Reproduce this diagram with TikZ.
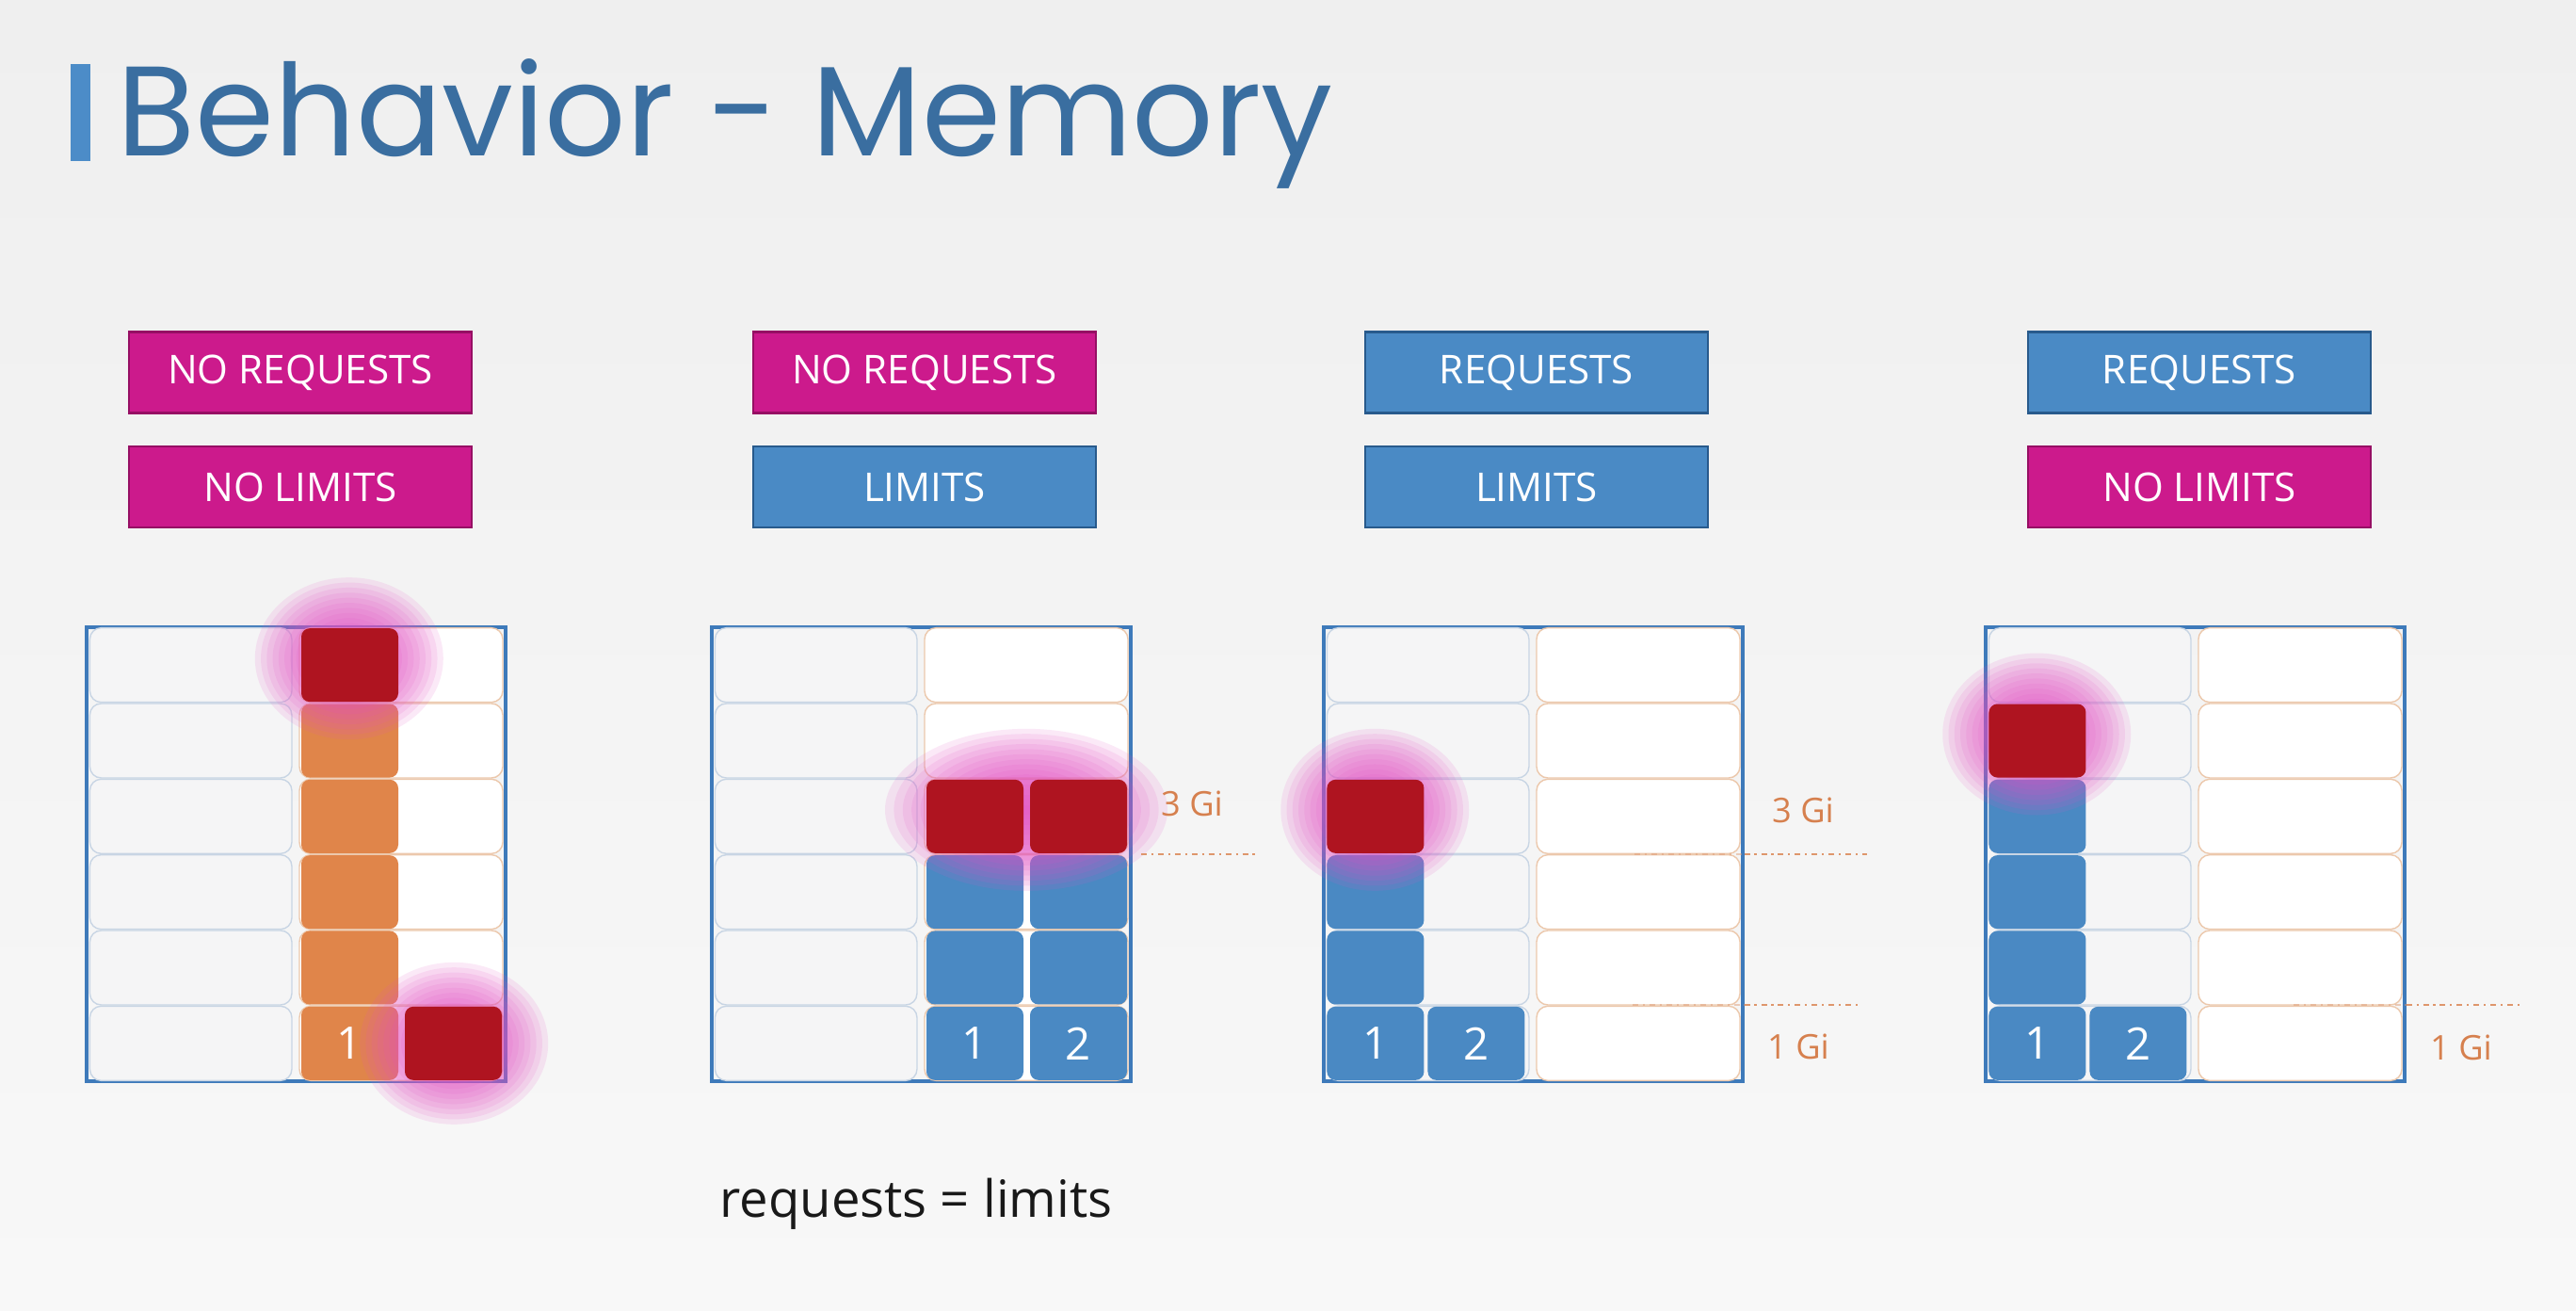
\documentclass[tikz,border=0pt]{standalone}
\usepackage{fontspec}
\setmainfont{Open Sans}
\newfontfamily\titlefont{Poppins}
\usetikzlibrary{positioning, calc}

\definecolor{bgtop}{RGB}{239,239,239}
\definecolor{bgbot}{RGB}{248,248,248}
\definecolor{titleblue}{RGB}{58,110,160}
\definecolor{barblue}{RGB}{76,140,200}
\definecolor{magfill}{RGB}{204,26,140}
\definecolor{magline}{RGB}{150,15,100}
\definecolor{boxfill}{RGB}{74,138,197}
\definecolor{boxline}{RGB}{40,90,140}
\definecolor{frameblue}{RGB}{62,122,186}
\definecolor{lcellfill}{RGB}{245,245,246}
\definecolor{lcelldraw}{RGB}{200,213,228}
\definecolor{rcelldraw}{RGB}{236,200,172}
\definecolor{memblue}{RGB}{74,137,195}
\definecolor{memorange}{RGB}{224,133,74}
\definecolor{oomred}{RGB}{175,20,32}
\definecolor{glowpink}{RGB}{228,80,196}
\definecolor{gitext}{RGB}{214,128,78}
\definecolor{gidash}{RGB}{222,150,108}

% soft pink halo: #1 centre, #2 x radius, #3 y radius
\newcommand{\oomglow}[3]{%
  \foreach \k in {1,...,16}
    \fill[glow] #1 ellipse ({#2*\k/16} and {#3*\k/16});
}

\begin{document}
\begin{tikzpicture}[
  titlebar/.style={rectangle,fill=barblue,minimum width=0.21cm,minimum height=1.03cm,inner sep=0pt},
  heading/.style={anchor=base west,inner sep=0pt,text=titleblue,font=\titlefont\fontsize{38.5}{44}\selectfont},
  tag/.style={rectangle,line width=0.7pt,minimum width=3.64cm,minimum height=0.86cm,inner sep=0pt,text=white,font=\fontsize{12}{14}\selectfont},
  notag/.style={tag,fill=magfill,draw=magline},
  yestag/.style={tag,fill=boxfill,draw=boxline},
  memframe/.style={rectangle,draw=frameblue,line width=0.9pt,minimum width=4.45cm,minimum height=4.82cm,inner sep=0pt},
  freecell/.style={rectangle,rounded corners=0.12cm,line width=0.4pt,minimum width=2.145cm,minimum height=0.79cm,inner sep=0pt},
  lcell/.style={freecell,draw=lcelldraw,fill=lcellfill},
  rcell/.style={freecell,draw=rcelldraw,fill=white,minimum width=2.16cm},
  blk/.style={rectangle,rounded corners=0.09cm,minimum width=1.03cm,minimum height=0.78cm,inner sep=0pt,text=white,font=\fontsize{13.5}{16}\selectfont},
  memblk/.style={blk,fill=memblue},
  orgblk/.style={blk,fill=memorange},
  oomblk/.style={blk,fill=oomred},
  glow/.style={fill=glowpink,opacity=0.12},
  gi/.style={text=gitext,font=\fontsize{10.3}{12}\selectfont},
  limit/.style={draw=gidash,line width=0.7pt,dash pattern=on 1.7pt off 1.4pt on 0.6pt off 1.4pt},
  note/.style={anchor=base,font=\fontsize{15.5}{18}\selectfont,text=black!90}
]
  \shade[top color=bgtop,bottom color=bgbot] (0,0) rectangle (27.36,13.92);

  \node[titlebar](bar) at (0.855,12.725) {};
  \node[heading](ttl) at (1.24,12.26) {Behavior - Memory};

  \node[notag](p1req) at (3.19,9.965) {NO REQUESTS};
  \node[notag, below=0.33cm of p1req](p1lim) {NO LIMITS};
  \node[notag](p2req) at (9.82,9.965) {NO REQUESTS};
  \node[yestag, below=0.33cm of p2req](p2lim) {LIMITS};
  \node[yestag](p3req) at (16.32,9.965) {REQUESTS};
  \node[yestag, below=0.33cm of p3req](p3lim) {LIMITS};
  \node[yestag](p4req) at (23.36,9.965) {REQUESTS};
  \node[notag, below=0.33cm of p4req](p4lim) {NO LIMITS};

  \foreach \p/\x in {1/0.92, 2/7.56, 3/14.06, 4/21.09} {
    \node[memframe](p\p) at (\x+2.225,4.85) {};
    \foreach \r in {1,...,6} {
      \node[lcell](p\p-l\r) at (\x+1.107,2.44+0.8033*\r-0.4017) {};
      \node[rcell](p\p-r\r) at (\x+3.34,2.44+0.8033*\r-0.4017) {};
    }
  }

  % no requests, no limits
  \node[orgblk, anchor=west](p1a1) at ([xshift=0.02cm]p1-r1.west) {1};
  \foreach \r in {2,...,5}
    \node[orgblk, anchor=west](p1a\r) at ([xshift=0.02cm]p1-r\r.west) {};
  \oomglow{($(p1-r6.west)+(0.535,0.07)$)}{1.0}{0.86}
  \oomglow{($(p1-r1.east)+(-0.525,0.0)$)}{1.0}{0.86}
  \node[oomblk, anchor=west](p1a6) at ([xshift=0.02cm]p1-r6.west) {};
  \node[oomblk, anchor=east](p1b1) at ([xshift=-0.01cm]p1-r1.east) {};

  % no requests, limits
  \node[memblk, anchor=west](p2a1) at ([xshift=0.02cm]p2-r1.west) {1};
  \node[memblk, anchor=east](p2b1) at ([xshift=-0.01cm]p2-r1.east) {2};
  \foreach \r in {2,3} {
    \node[memblk, anchor=west](p2a\r) at ([xshift=0.02cm]p2-r\r.west) {};
    \node[memblk, anchor=east](p2b\r) at ([xshift=-0.01cm]p2-r\r.east) {};
  }
  \oomglow{([yshift=0.07cm]p2-r4.center)}{1.5}{0.86}
  \node[oomblk, anchor=west](p2a4) at ([xshift=0.02cm]p2-r4.west) {};
  \node[oomblk, anchor=east](p2b4) at ([xshift=-0.01cm]p2-r4.east) {};

  % requests, limits
  \node[memblk, anchor=west](p3a1) at (p3-l1.west) {1};
  \node[memblk, anchor=west](p3b1) at ([xshift=1.07cm]p3-l1.west) {2};
  \foreach \r in {2,3}
    \node[memblk, anchor=west](p3a\r) at (p3-l\r.west) {};
  \oomglow{($(p3-l4.west)+(0.515,0.07)$)}{1.0}{0.86}
  \node[oomblk, anchor=west](p3a4) at (p3-l4.west) {};

  % requests, no limits
  \node[memblk, anchor=west](p4a1) at (p4-l1.west) {1};
  \node[memblk, anchor=west](p4b1) at ([xshift=1.07cm]p4-l1.west) {2};
  \foreach \r in {2,3,4}
    \node[memblk, anchor=west](p4a\r) at (p4-l\r.west) {};
  \oomglow{($(p4-l5.west)+(0.515,0.07)$)}{1.0}{0.86}
  \node[oomblk, anchor=west](p4a5) at (p4-l5.west) {};

  % limit marks
  \coordinate (p2g3a) at (12.12,4.85);
  \coordinate (p2g3b) at (13.33,4.85);
  \draw[limit] (p2g3a) -- (p2g3b);
  \node[gi](p2gi3) at (12.66,5.39) {3 Gi};

  \coordinate (p3g3a) at (17.36,4.85);
  \coordinate (p3g3b) at (19.83,4.85);
  \draw[limit, opacity=0.45] (p3g3a) -- (p3g3a -| p3.east);
  \draw[limit] (p3g3a -| p3.east) -- (p3g3b);
  \node[gi](p3gi3) at (19.15,5.32) {3 Gi};
  \coordinate (p3g1a) at (17.34,3.25);
  \coordinate (p3g1b) at (19.77,3.25);
  \draw[limit, opacity=0.45] (p3g1a) -- (p3g1a -| p3.east);
  \draw[limit] (p3g1a -| p3.east) -- (p3g1b);
  \node[gi](p3gi1) at (19.10,2.81) {1 Gi};

  \coordinate (p4g1a) at (24.36,3.25);
  \coordinate (p4g1b) at (26.79,3.25);
  \draw[limit, opacity=0.45] (p4g1a) -- (p4g1a -| p4.east);
  \draw[limit] (p4g1a -| p4.east) -- (p4g1b);
  \node[gi](p4gi1) at (26.14,2.80) {1 Gi};

  \node[note](eq) at (9.73,0.99) {requests = limits};
\end{tikzpicture}
\end{document}
